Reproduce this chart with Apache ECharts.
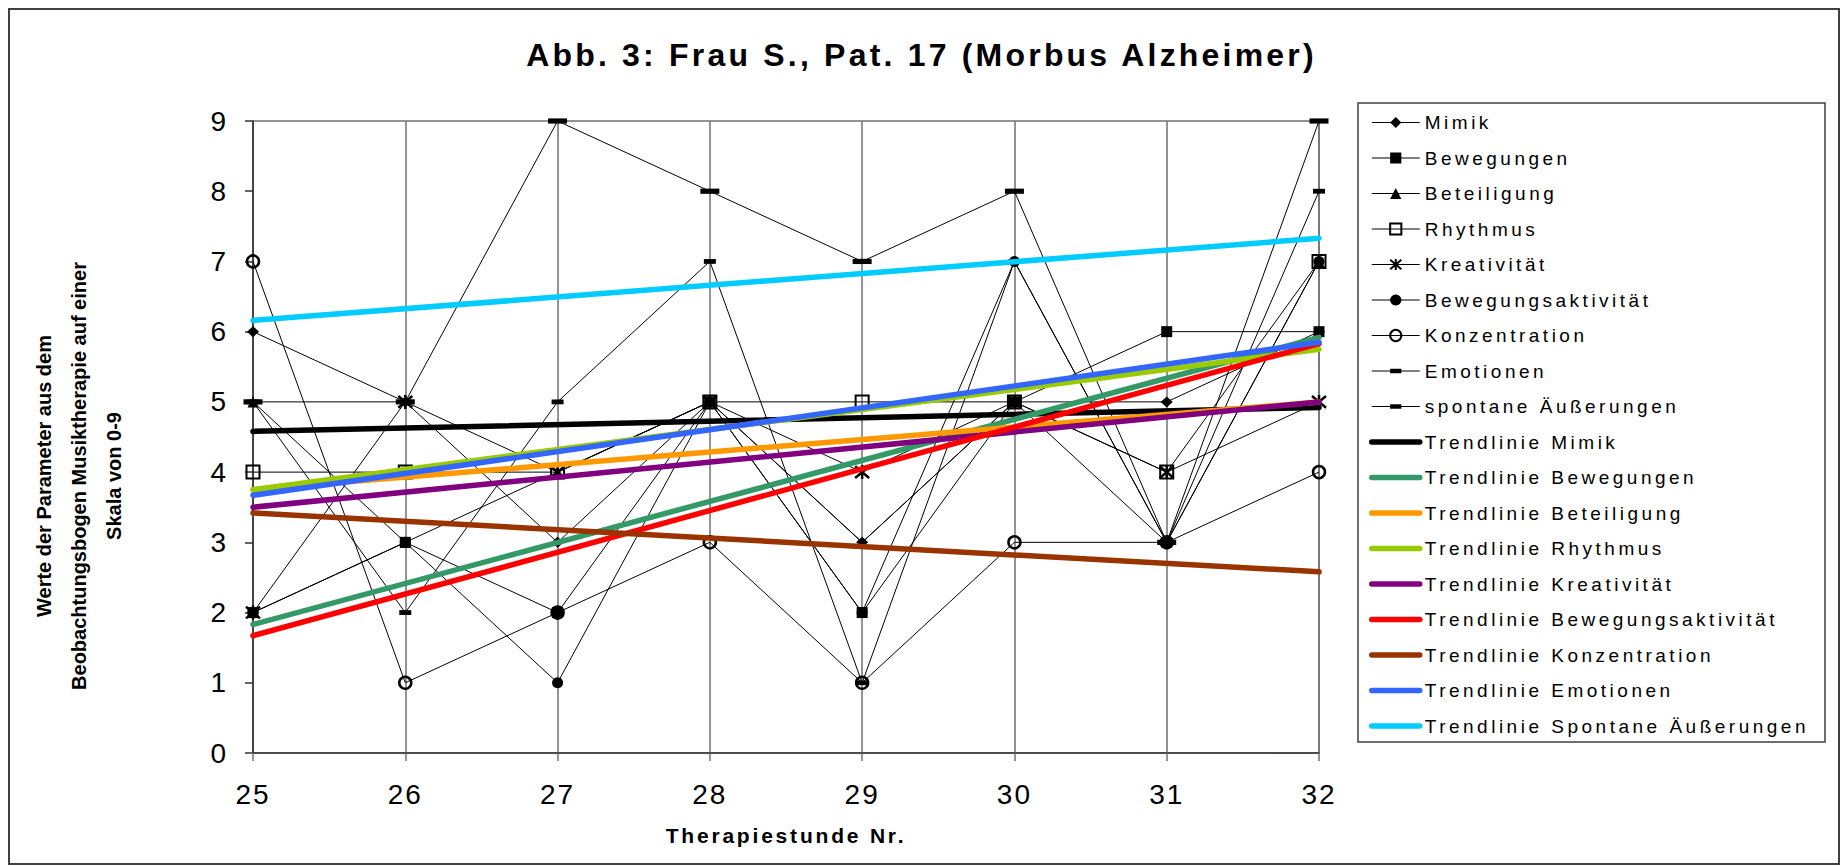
<!DOCTYPE html>
<html>
<head>
<meta charset="utf-8">
<script src="https://cdn.jsdelivr.net/npm/echarts@6/dist/echarts.min.js"></script>
<style>
html, body { margin: 0; padding: 0; background: #ffffff; }
#chart { width: 1843px; height: 866px; }
text[style*="lsTitle"] { letter-spacing: 3.2px; }
text[style*="lsLeg"] { letter-spacing: 3.5px; }
text[style*="lsTick"] { letter-spacing: 2px; }
text[style*="lsAxn"] { letter-spacing: 2.8px; }
</style>
</head>
<body>
<div id="chart"></div>
<script>
// ---- data ----
const categories = ['25', '26', '27', '28', '29', '30', '31', '32'];
const yMin = 0, yMax = 9, yStep = 1;

const mimik               = [6, 5, 3, 5, 3, 5, 5, 6];
const bewegungen          = [2, 3, 2, 5, 2, 5, 6, 6];
const beteiligung         = [5, 3, 4, 5, 3, 5, 3, 7];
const rhythmus            = [4, 4, 4, 5, 5, 5, 4, 7];
const kreativitaet        = [2, 5, 4, 5, 4, 5, 4, 5];
const bewegungsaktivitaet = [2, 3, 1, 5, 2, 7, 3, 7];
const konzentration       = [7, 1, 2, 3, 1, 3, 3, 4];
const emotionen           = [5, 2, 5, 7, 1, 7, 3, 8];
const spontane            = [5, 5, 9, 8, 7, 8, 3, 9];

const dataNames = ['Mimik', 'Bewegungen', 'Beteiligung', 'Rhythmus', 'Kreativität',
  'Bewegungsaktivität', 'Konzentration', 'Emotionen', 'spontane Äußerungen'];
const dataValues = [mimik, bewegungen, beteiligung, rhythmus, kreativitaet,
  bewegungsaktivitaet, konzentration, emotionen, spontane];

const trendNames = ['Trendlinie Mimik', 'Trendlinie Bewegungen', 'Trendlinie Beteiligung',
  'Trendlinie Rhythmus', 'Trendlinie Kreativität', 'Trendlinie Bewegungsaktivität',
  'Trendlinie Konzentration', 'Trendlinie Emotionen', 'Trendlinie Spontane Äußerungen'];
// trend line values at session 25 and at session 32
const trendStart = [4.58, 1.83, 3.75, 3.75, 3.50, 1.67, 3.42, 3.67, 6.16];
const trendEnd   = [4.92, 5.92, 5.00, 5.75, 5.00, 5.83, 2.58, 5.85, 7.33];

// ---- styles ----
const trendColors = ['#000000', '#339966', '#FF9900', '#99CC00', '#800080',
  '#FF0000', '#993300', '#3366FF', '#00CCFF'];
const DASH = 'path://M0,0M0,10M0,3L10,3L10,7L0,7Z';
const STAR = 'path://M0,0L10,10M10,0L0,10M5,-1L5,11';
const markerStyles = [
  { symbol: 'diamond', size: [12, 11], itemStyle: { color: '#000' } },
  { symbol: 'rect', size: 11, itemStyle: { color: '#000' } },
  { symbol: 'triangle', size: 11, itemStyle: { color: '#000' } },
  { symbol: 'rect', size: 13, itemStyle: { color: 'rgba(0,0,0,0)', borderColor: '#000', borderWidth: 2 } },
  { symbol: STAR, size: 14, itemStyle: { color: '#000', borderColor: '#000', borderWidth: 2.5 } },
  { symbol: 'circle', size: 11, itemStyle: { color: '#000' } },
  { symbol: 'circle', size: 12, itemStyle: { color: 'rgba(0,0,0,0)', borderColor: '#000', borderWidth: 2.5 } },
  { symbol: DASH, size: [12, 12], itemStyle: { color: '#000' } },
  { symbol: DASH, size: [19, 13], itemStyle: { color: '#000' } }
];

const series = [];
dataNames.forEach(function (n, i) {
  series.push({
    name: n, type: 'line', data: dataValues[i],
    symbol: markerStyles[i].symbol, symbolSize: markerStyles[i].size,
    showAllSymbol: true,
    itemStyle: markerStyles[i].itemStyle,
    lineStyle: { color: '#000', width: 1 },
    z: 2, emphasis: { disabled: true }, silent: true
  });
});
trendNames.forEach(function (n, i) {
  const last = categories.length - 1;
  series.push({
    name: n, type: 'line',
    data: categories.map(function (c, j) { return j === 0 ? trendStart[i] : (j === last ? trendEnd[i] : null); }),
    connectNulls: true, symbol: 'none',
    itemStyle: { color: trendColors[i] },
    lineStyle: { color: trendColors[i], width: 5.5, cap: 'round' },
    z: 3, emphasis: { disabled: true }, silent: true
  });
});

const legendData = dataNames.map(function (n) { return { name: n }; })
  .concat(trendNames.map(function (n) { return { name: n, itemStyle: { opacity: 0 } }; }));

const chart = echarts.init(document.getElementById('chart'), null, { renderer: 'svg', width: 1843, height: 866 });
chart.setOption({
  animation: false,
  backgroundColor: '#ffffff',
  title: {
    text: 'Abb. 3: Frau S., Pat. 17 (Morbus Alzheimer)',
    left: 'center', top: 39, padding: 0,
    textStyle: { fontFamily: 'Arial, lsTitle', fontSize: 32, fontWeight: 'bold', color: '#000' }
  },
  grid: { left: 253, right: 524, top: 121, bottom: 113, show: true, borderColor: '#707070', borderWidth: 1.5, backgroundColor: 'transparent' },
  xAxis: {
    type: 'category', data: categories, boundaryGap: false,
    name: 'Therapiestunde Nr.', nameLocation: 'middle', nameGap: 72,
    nameTextStyle: { fontFamily: 'Arial, lsAxn', fontSize: 21, fontWeight: 'bold', color: '#000' },
    axisLine: { show: true, lineStyle: { color: '#333', width: 1.5 } },
    axisTick: { show: true, length: 8, lineStyle: { color: '#707070', width: 1.5 } },
    axisLabel: { fontFamily: 'Arial, lsTick', fontSize: 28, color: '#000', margin: 27 },
    splitLine: { show: true, lineStyle: { color: '#707070', width: 1.5 } }
  },
  yAxis: {
    type: 'value', min: yMin, max: yMax, interval: yStep,
    axisLine: { show: true, lineStyle: { color: '#333', width: 1.5 } },
    axisTick: { show: true, length: 8, lineStyle: { color: '#333', width: 1.5 } },
    axisLabel: { fontFamily: 'Arial, lsTick', fontSize: 28, color: '#000', margin: 25 },
    splitLine: { show: false }
  },
  legend: {
    orient: 'vertical', left: 1358, top: 103, padding: [10, 10, 10, 11],
    itemWidth: 48, itemHeight: 14, itemGap: 16.5, itemTextGap: 8,
    selectedMode: false,
    textStyle: { fontFamily: 'Arial, lsLeg', fontSize: 19, color: '#000' },
    lineStyle: { width: 'inherit' },
    data: legendData
  },
  graphic: [
    { type: 'rect', silent: true, z: -10, shape: { x: 9, y: 9, width: 1830, height: 855 },
      style: { fill: 'none', stroke: '#404040', lineWidth: 2 } },
    { type: 'rect', silent: true, shape: { x: 1358, y: 103, width: 467, height: 639 },
      style: { fill: 'none', stroke: '#404040', lineWidth: 1.5 } },
    { type: 'text', silent: true, x: 79, y: 476, rotation: Math.PI / 2,
      style: { text: 'Werte der Parameter aus dem\nBeobachtungsbogen Musiktherapie auf einer\nSkala von 0-9',
        font: 'bold 20px Arial', align: 'center', verticalAlign: 'middle', textAlign: 'center', textVerticalAlign: 'middle',
        lineHeight: 35, fill: '#000' } }
  ],
  series: series
});
</script>
</body>
</html>
